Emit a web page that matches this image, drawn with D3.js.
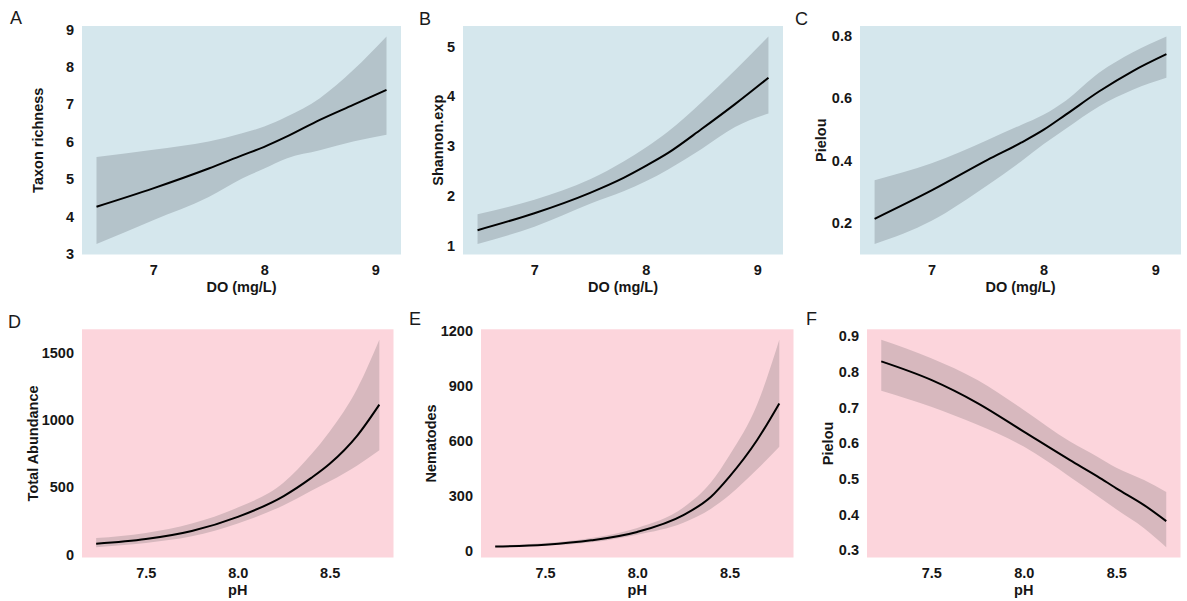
<!DOCTYPE html>
<html>
<head>
<meta charset="utf-8">
<script src="https://cdn.jsdelivr.net/npm/d3@7"></script>
<style>
  html, body { margin: 0; padding: 0; background: #ffffff; }
  svg { display: block; }
  .tick-label { font-family: "Liberation Sans", Arial, sans-serif; font-weight: bold; font-size: 14.5px; fill: #161616; }
  .axis-title { font-family: "Liberation Sans", Arial, sans-serif; font-weight: bold; font-size: 14.5px; fill: #161616; }
  .panel-letter { font-family: "Liberation Sans", Arial, sans-serif; font-size: 18px; fill: #1a1a1a; }
</style>
</head>
<body>
<svg id="chart" width="1187" height="601"></svg>
<script>
// ---- predictor grids ----
const doX = [6.49, 7.0, 7.5, 7.8, 8.0, 8.2, 8.5, 8.8, 9.1];
const phX = [7.23, 7.5, 7.75, 8.0, 8.25, 8.4, 8.5, 8.65, 8.77];

// ---- tick values ----
const doTicks = [7, 8, 9];
const phTicks = [7.5, 8.0, 8.5];
const richTicks = [3, 4, 5, 6, 7, 8, 9];
const shannonTicks = [1, 2, 3, 4, 5];
const pielouDoTicks = [0.2, 0.4, 0.6, 0.8];
const abundTicks = [0, 500, 1000, 1500];
const nemaTicks = [0, 300, 600, 900, 1200];
const pielouPhTicks = [0.3, 0.4, 0.5, 0.6, 0.7, 0.8, 0.9];

// ---- A: taxon richness vs DO ----
const richFit   = [4.25, 4.74, 5.27, 5.62, 5.85, 6.12, 6.57, 6.97, 7.37];
const richUpper = [5.58, 5.77, 5.99, 6.21, 6.39, 6.65, 7.15, 7.90, 8.80];
const richLower = [3.25, 3.89, 4.51, 5.00, 5.27, 5.54, 5.76, 5.99, 6.17];

// ---- B: exp(Shannon) vs DO ----
const shannonFit   = [1.30, 1.64, 2.05, 2.35, 2.59, 2.85, 3.33, 3.83, 4.36];
const shannonUpper = [1.62, 1.91, 2.32, 2.68, 2.96, 3.28, 3.87, 4.51, 5.19];
const shannonLower = [1.02, 1.37, 1.83, 2.08, 2.28, 2.52, 2.93, 3.37, 3.64];

// ---- C: Pielou evenness vs DO ----
const pielouDoFit   = [0.211, 0.302, 0.400, 0.455, 0.496, 0.545, 0.620, 0.685, 0.739];
const pielouDoUpper = [0.335, 0.389, 0.464, 0.512, 0.545, 0.590, 0.680, 0.745, 0.796];
const pielouDoLower = [0.130, 0.205, 0.319, 0.395, 0.450, 0.500, 0.572, 0.625, 0.663];

// ---- D: total abundance vs pH ----
const abundFit   = [75, 110, 170, 275, 430, 565, 670, 880, 1110];
const abundUpper = [118, 156, 226, 344, 530, 740, 910, 1230, 1593];
const abundLower = [50, 81, 130, 226, 362, 470, 540, 658, 771];

// ---- E: nematodes vs pH ----
const nemaFit   = [18, 28, 52, 98, 190, 290, 400, 600, 800];
const nemaUpper = [22, 37, 65, 120, 231, 369, 517, 794, 1148];
const nemaLower = [15, 22, 41, 83, 148, 225, 300, 440, 563];

// ---- F: Pielou evenness vs pH ----
const pielouPhFit   = [0.828, 0.776, 0.711, 0.631, 0.551, 0.505, 0.472, 0.425, 0.380];
const pielouPhUpper = [0.889, 0.837, 0.776, 0.692, 0.603, 0.560, 0.530, 0.495, 0.462];
const pielouPhLower = [0.746, 0.701, 0.650, 0.589, 0.504, 0.450, 0.413, 0.360, 0.307];

// ---- panel definitions (data + layout) ----
const DO_THEME = { bg: "#d5e7ed", band: "#b4c3ca" };
const PH_THEME = { bg: "#fcd5dc", band: "#d7b8be" };

const panels = [
  { letter: "A", x: doX, fit: richFit, up: richUpper, lo: richLower, xt: doTicks, yt: richTicks,
    xfmt: d3.format("d"), yfmt: d3.format("d"), xlab: "DO (mg/L)", ylab: "Taxon richness", theme: DO_THEME,
    box: [82, 26, 401, 254.5], ylabX: 42.5, letterPos: [10, 24] },
  { letter: "B", x: doX, fit: shannonFit, up: shannonUpper, lo: shannonLower, xt: doTicks, yt: shannonTicks,
    xfmt: d3.format("d"), yfmt: d3.format("d"), xlab: "DO (mg/L)", ylab: "Shannon.exp", theme: DO_THEME,
    box: [463, 26, 783, 254.5], ylabX: 442.5, letterPos: [419, 25] },
  { letter: "C", x: doX, fit: pielouDoFit, up: pielouDoUpper, lo: pielouDoLower, xt: doTicks, yt: pielouDoTicks,
    xfmt: d3.format("d"), yfmt: d3.format(".1f"), xlab: "DO (mg/L)", ylab: "Pielou", theme: DO_THEME,
    box: [860, 26, 1181, 254.5], ylabX: 826, letterPos: [795, 25] },
  { letter: "D", x: phX, fit: abundFit, up: abundUpper, lo: abundLower, xt: phTicks, yt: abundTicks,
    xfmt: d3.format(".1f"), yfmt: d3.format("d"), xlab: "pH", ylab: "Total Abundance", theme: PH_THEME,
    box: [82, 329.3, 393.5, 557.5], ylabX: 38, letterPos: [8, 328] },
  { letter: "E", x: phX, fit: nemaFit, up: nemaUpper, lo: nemaLower, xt: phTicks, yt: nemaTicks,
    xfmt: d3.format(".1f"), yfmt: d3.format("d"), xlab: "pH", ylab: "Nematodes", theme: PH_THEME,
    box: [481, 329.3, 793.5, 557.5], ylabX: 436, letterPos: [409, 325] },
  { letter: "F", x: phX, fit: pielouPhFit, up: pielouPhUpper, lo: pielouPhLower, xt: phTicks, yt: pielouPhTicks,
    xfmt: d3.format(".1f"), yfmt: d3.format(".1f"), xlab: "pH", ylab: "Pielou", theme: PH_THEME,
    box: [867, 329.3, 1180.5, 557.5], ylabX: 833, letterPos: [806, 325] }
];

// extend a [min, max] extent by 5% on each side
function expand(ext) {
  const pad = (ext[1] - ext[0]) * 0.05;
  return [ext[0] - pad, ext[1] + pad];
}

const svg = d3.select("#chart");

panels.forEach(p => {
  const [x0, y0, x1, y1] = p.box;
  const rows = p.x.map((xv, i) => ({ x: xv, fit: p.fit[i], up: p.up[i], lo: p.lo[i] }));

  const xScale = d3.scaleLinear().domain(expand(d3.extent(p.x))).range([x0, x1]);
  const yScale = d3.scaleLinear()
    .domain(expand([d3.min(p.lo), d3.max(p.up)]))
    .range([y1, y0]);

  const g = svg.append("g");

  // panel background
  g.append("rect")
    .attr("x", x0).attr("y", y0)
    .attr("width", x1 - x0).attr("height", y1 - y0)
    .attr("fill", p.theme.bg);

  // confidence band
  const area = d3.area()
    .x(d => xScale(d.x))
    .y0(d => yScale(d.lo))
    .y1(d => yScale(d.up))
    .curve(d3.curveMonotoneX);
  g.append("path").datum(rows)
    .attr("d", area)
    .attr("fill", p.theme.band);

  // fitted curve
  const line = d3.line()
    .x(d => xScale(d.x))
    .y(d => yScale(d.fit))
    .curve(d3.curveMonotoneX);
  g.append("path").datum(rows)
    .attr("d", line)
    .attr("fill", "none")
    .attr("stroke", "#000")
    .attr("stroke-width", 2)
    .attr("stroke-linejoin", "round");

  // x axis (labels only, no tick marks or domain line)
  const xAxis = d3.axisBottom(xScale).tickValues(p.xt).tickFormat(p.xfmt).tickSize(0).tickPadding(0);
  const xg = g.append("g").attr("transform", `translate(0,${y1})`).call(xAxis);
  xg.select(".domain").remove();
  xg.selectAll("text")
    .attr("class", "tick-label")
    .attr("dy", null)
    .attr("y", 20)
    .attr("fill", null);

  // y axis
  const yAxis = d3.axisLeft(yScale).tickValues(p.yt).tickFormat(p.yfmt).tickSize(0).tickPadding(8);
  const yg = g.append("g").attr("transform", `translate(${x0},0)`).call(yAxis);
  yg.select(".domain").remove();
  yg.selectAll("text")
    .attr("class", "tick-label")
    .attr("dy", "0.36em")
    .attr("fill", null);
  xg.attr("font-family", null).attr("font-size", null);
  yg.attr("font-family", null).attr("font-size", null);

  // axis titles
  g.append("text")
    .attr("class", "axis-title")
    .attr("x", (x0 + x1) / 2)
    .attr("y", y1 + 37)
    .attr("text-anchor", "middle")
    .text(p.xlab);

  g.append("text")
    .attr("class", "axis-title")
    .attr("transform", `translate(${p.ylabX},${(y0 + y1) / 2}) rotate(-90)`)
    .attr("text-anchor", "middle")
    .text(p.ylab);

  // panel letter
  g.append("text")
    .attr("class", "panel-letter")
    .attr("x", p.letterPos[0])
    .attr("y", p.letterPos[1])
    .text(p.letter);
});
</script>
</body>
</html>
